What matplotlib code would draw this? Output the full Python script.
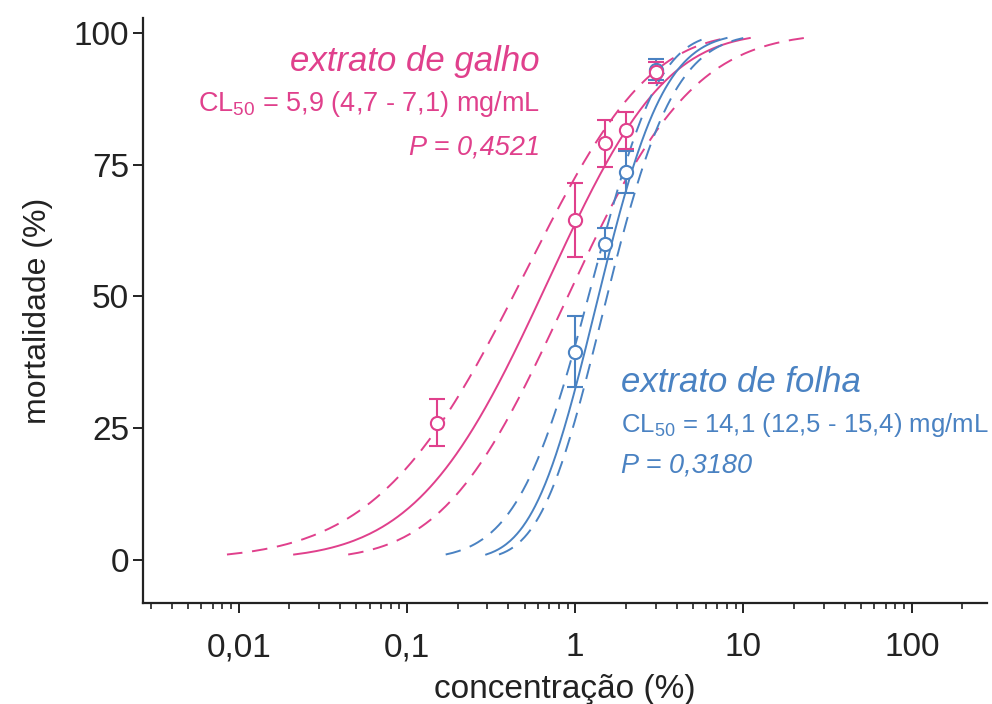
import numpy as np
import matplotlib
matplotlib.use("Agg")
import matplotlib.pyplot as plt
from matplotlib.ticker import FixedLocator, LogLocator, NullFormatter
from statistics import NormalDist

plt.rcParams['mathtext.fontset'] = 'custom'
plt.rcParams['mathtext.rm'] = 'Liberation Sans'
plt.rcParams['mathtext.it'] = 'Liberation Sans:italic'

# cores
rosa = '#e0408c'
azul = '#4a82c2'
preto = '#222222'

# dados observados (concentração %, mortalidade %, erro)
conc_galho = [0.15, 1, 1.5, 2, 3]
mort_galho = [26, 64.5, 79, 81.5, 92.5]
err_galho = [4.5, 7, 4.5, 3.5, 2]

conc_folha = [1, 1.5, 2, 3]
mort_folha = [39.5, 60, 73.5, 93]
err_folha = [6.7, 3, 4, 2]

# ajuste probit: log10(x) = a + b*z + c*z^2  (curva central e limites de confiança)
probit_galho = {'solid': (-0.203, 0.582, -0.021),
                'lo': (-0.369, 0.638, -0.040),
                'hi': (-0.044, 0.582, 0.009)}
probit_folha = {'solid': (0.138, 0.307, 0.0087),
                'lo': (0.079, 0.333, -0.0137),
                'hi': (0.189, 0.312, 0.0155)}

nd = NormalDist()


def probit_curve(a, b, c, pmin=0.01, pmax=0.99):
    p = np.linspace(pmin, pmax, 300)
    z = np.array([nd.inv_cdf(v) for v in p])
    return 10 ** (a + b * z + c * z ** 2), p * 100


fig = plt.figure(figsize=(9.92, 7.04), dpi=100)
W, H = 992, 704
ax = fig.add_axes([143 / W, 1 - 603 / H, (987 - 143) / W, (603 - 18) / H])

for cor, params in [(rosa, probit_galho), (azul, probit_folha)]:
    for k, coef in params.items():
        x, y = probit_curve(*coef)
        ls = '-' if k == 'solid' else (0, (8, 5))
        ax.plot(x, y, color=cor, lw=1.4, ls=ls)

for xs, ys, es, cor in [(conc_folha, mort_folha, err_folha, azul),
                        (conc_galho, mort_galho, err_galho, rosa)]:
    ax.errorbar(xs, ys, yerr=es, fmt='o', mfc='white', mec=cor, ecolor=cor,
                ms=9.5, mew=1.5, elinewidth=1.5, capsize=6, capthick=1.5)

ax.set_xscale('log')
ax.set_xlim(0.0027, 280)
ax.set_ylim(-8.2, 102.8)

for s in ['top', 'right']:
    ax.spines[s].set_visible(False)
for s in ['left', 'bottom']:
    ax.spines[s].set_linewidth(1.6)
    ax.spines[s].set_color(preto)

ax.yaxis.set_major_locator(FixedLocator([0, 25, 50, 75, 100]))
ax.xaxis.set_major_locator(FixedLocator([0.01, 0.1, 1, 10, 100]))
ax.xaxis.set_minor_locator(LogLocator(base=10, subs=np.arange(2, 10)))
ax.xaxis.set_minor_formatter(NullFormatter())
ax.set_xticklabels(['0,01', '0,1', '1', '10', '100'], family='Liberation Sans', fontsize=24)
ax.set_yticklabels(['0', '25', '50', '75', '100'], family='Liberation Sans', fontsize=24)
ax.tick_params(axis='both', which='major', length=7, width=1.4, direction='out', colors=preto)
ax.tick_params(axis='x', which='minor', length=4, width=1.2, colors=preto)
ax.tick_params(axis='x', which='major', pad=14)
ax.tick_params(axis='y', which='major', pad=3)

ax.set_xlabel('concentração (%)', family='Liberation Sans', fontsize=24, color=preto, labelpad=8)
ax.set_ylabel('mortalidade (%)', family='Liberation Sans', fontsize=23, color=preto, labelpad=15)


def fx(px):
    return px / W


def fy(py):
    return 1 - py / H


fig.text(fx(540), fy(62), 'extrato de galho', color=rosa, style='italic',
         fontsize=25, ha='right', va='center', family='Liberation Sans')
fig.text(fx(540), fy(104), r'CL$_{50}$ = 5,9 (4,7 - 7,1) mg/mL', color=rosa,
         fontsize=19.5, ha='right', va='center', family='Liberation Sans')
fig.text(fx(540), fy(148), 'P = 0,4521', color=rosa, style='italic',
         fontsize=19.5, ha='right', va='center', family='Liberation Sans')

fig.text(fx(621), fy(383), 'extrato de folha', color=azul, style='italic',
         fontsize=25, ha='left', va='center', family='Liberation Sans')
fig.text(fx(621), fy(425), r'CL$_{50}$ = 14,1 (12,5 - 15,4) mg/mL', color=azul,
         fontsize=18.5, ha='left', va='center', family='Liberation Sans')
fig.text(fx(621), fy(466), 'P = 0,3180', color=azul, style='italic',
         fontsize=19.5, ha='left', va='center', family='Liberation Sans')

fig.savefig('out.png', dpi=100)
